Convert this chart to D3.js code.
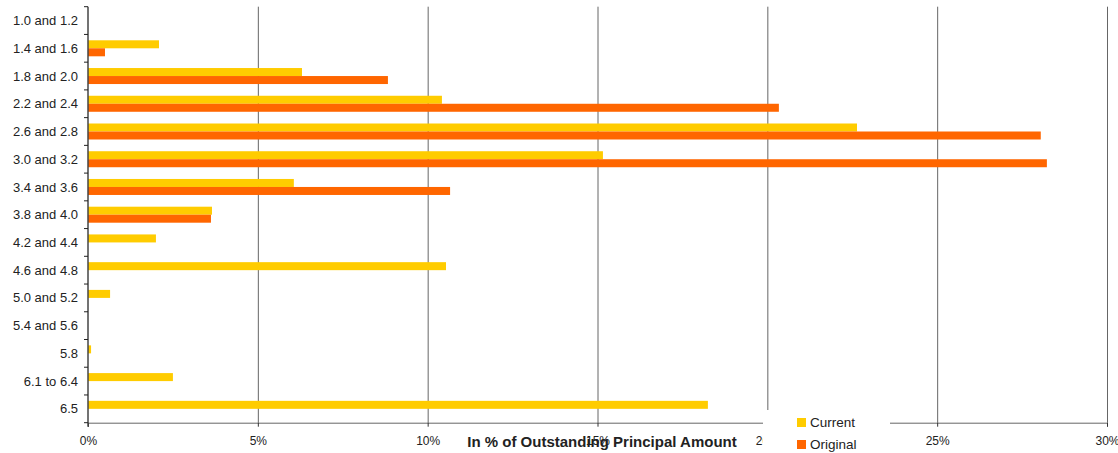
<html>
<head>
  <script src="https://d3js.org/d3.v7.min.js"></script>
  <style>
    body { margin: 0; background: #fff; }
    text { font-family: "Liberation Sans", Arial, sans-serif; }
  </style>
</head>
<body>
  <script>
    let width = 1118;
    let height = 453;

    // chart data
    let categories = ["1.0 and 1.2", "1.4 and 1.6", "1.8 and 2.0", "2.2 and 2.4", "2.6 and 2.8",
      "3.0 and 3.2", "3.4 and 3.6", "3.8 and 4.0", "4.2 and 4.4", "4.6 and 4.8",
      "5.0 and 5.2", "5.4 and 5.6", "5.8", "6.1 to 6.4", "6.5"];
    let current = [0, 2.09, 6.30, 10.42, 22.64, 15.16, 6.06, 3.65, 2.0, 10.54, 0.65, 0, 0.09, 2.50, 18.25];
    let original = [0, 0.50, 8.83, 20.34, 28.05, 28.23, 10.66, 3.62, 0, 0, 0, 0, 0, 0, 0];
    let seriesNames = ["Current", "Original"];
    let xTicks = [0, 5, 10, 15, 20, 25, 30];

    let colors = { Current: "#FFCC00", Original: "#FF6600" };

    let margin = { top: 6.7, left: 88, right: 11, bottom: 30.3 };
    let plotW = width - margin.left - margin.right;
    let plotH = height - margin.top - margin.bottom;

    let svg = d3.select("body")
      .append("svg")
      .attr("width", width)
      .attr("height", height);

    let g = svg.append("g")
      .attr("transform", "translate(" + margin.left + "," + margin.top + ")");

    let x = d3.scaleLinear().domain([0, 30]).range([0, plotW]);

    let y = d3.scaleBand()
      .domain(categories)
      .range([0, plotH])
      .paddingInner(0.423)
      .paddingOuter(0.2115);

    let ySub = d3.scaleBand()
      .domain(seriesNames)
      .range([0, y.bandwidth()]);

    // vertical gridlines
    g.append("g")
      .selectAll("line")
      .data(xTicks.slice(1))
      .enter()
      .append("line")
      .attr("x1", d => x(d) + 0.5)
      .attr("x2", d => x(d) + 0.5)
      .attr("y1", 0)
      .attr("y2", plotH)
      .attr("stroke", "#666")
      .attr("stroke-width", 1);

    // bars
    let rows = categories.map((c, i) => ({ cat: c, values: [
      { name: "Current", value: current[i] },
      { name: "Original", value: original[i] }
    ]}));

    let groups = g.selectAll(".row")
      .data(rows)
      .enter()
      .append("g")
      .attr("transform", d => "translate(0," + y(d.cat) + ")");

    groups.selectAll("rect")
      .data(d => d.values.filter(v => v.value > 0))
      .enter()
      .append("rect")
      .attr("x", 0)
      .attr("y", d => ySub(d.name))
      .attr("width", d => x(d.value))
      .attr("height", ySub.bandwidth())
      .attr("fill", d => colors[d.name]);

    // x axis
    let xAxis = g.append("g")
      .attr("transform", "translate(0," + plotH + ")")
      .call(d3.axisBottom(x).tickValues(xTicks).tickFormat(d => d + "%").tickSize(4).tickPadding(10));
    xAxis.select(".domain").attr("stroke", "#666");
    xAxis.selectAll(".tick line").attr("stroke", "#333");
    xAxis.selectAll("text")
      .attr("font-size", 12)
      .attr("fill", "#222")
      .style("font-family", "'Liberation Sans', Arial, sans-serif");

    // y axis with ticks on the band edges
    let yEdges = d3.range(categories.length + 1).map(i => i * y.step());
    let yAxis = g.append("g");
    yAxis.append("line")
      .attr("x1", 0).attr("x2", 0)
      .attr("y1", 0).attr("y2", plotH + 4)
      .attr("stroke", "#444")
      .attr("stroke-width", 1.5);
    yAxis.selectAll(".edge")
      .data(yEdges)
      .enter()
      .append("line")
      .attr("x1", -4).attr("x2", 0)
      .attr("y1", d => d).attr("y2", d => d)
      .attr("stroke", "#222");
    yAxis.selectAll(".lab")
      .data(categories)
      .enter()
      .append("text")
      .attr("x", -10)
      .attr("y", d => y(d) + y.bandwidth() / 2)
      .attr("dy", "0.35em")
      .attr("text-anchor", "end")
      .attr("font-size", 13)
      .attr("fill", "#222")
      .text(d => d);

    // axis title, drawn over the tick labels
    svg.append("text")
      .attr("x", 602)
      .attr("y", 447)
      .attr("text-anchor", "middle")
      .attr("font-size", 15)
      .attr("font-weight", "bold")
      .attr("fill", "#222")
      .text("In % of Outstanding Principal Amount");

    // legend with white box
    let legend = svg.append("g");
    legend.append("rect")
      .attr("x", 763).attr("y", 410)
      .attr("width", 127).attr("height", 43)
      .attr("fill", "#fff");
    let items = legend.selectAll(".item")
      .data(seriesNames)
      .enter()
      .append("g")
      .attr("transform", (d, i) => "translate(797," + (418 + i * 22) + ")");
    items.append("rect")
      .attr("width", 9).attr("height", 9)
      .attr("fill", d => colors[d]);
    items.append("text")
      .attr("x", 13)
      .attr("y", 4.5)
      .attr("dy", "0.35em")
      .attr("font-size", 13.5)
      .attr("fill", "#222")
      .text(d => d);
  </script>
</body>
</html>
